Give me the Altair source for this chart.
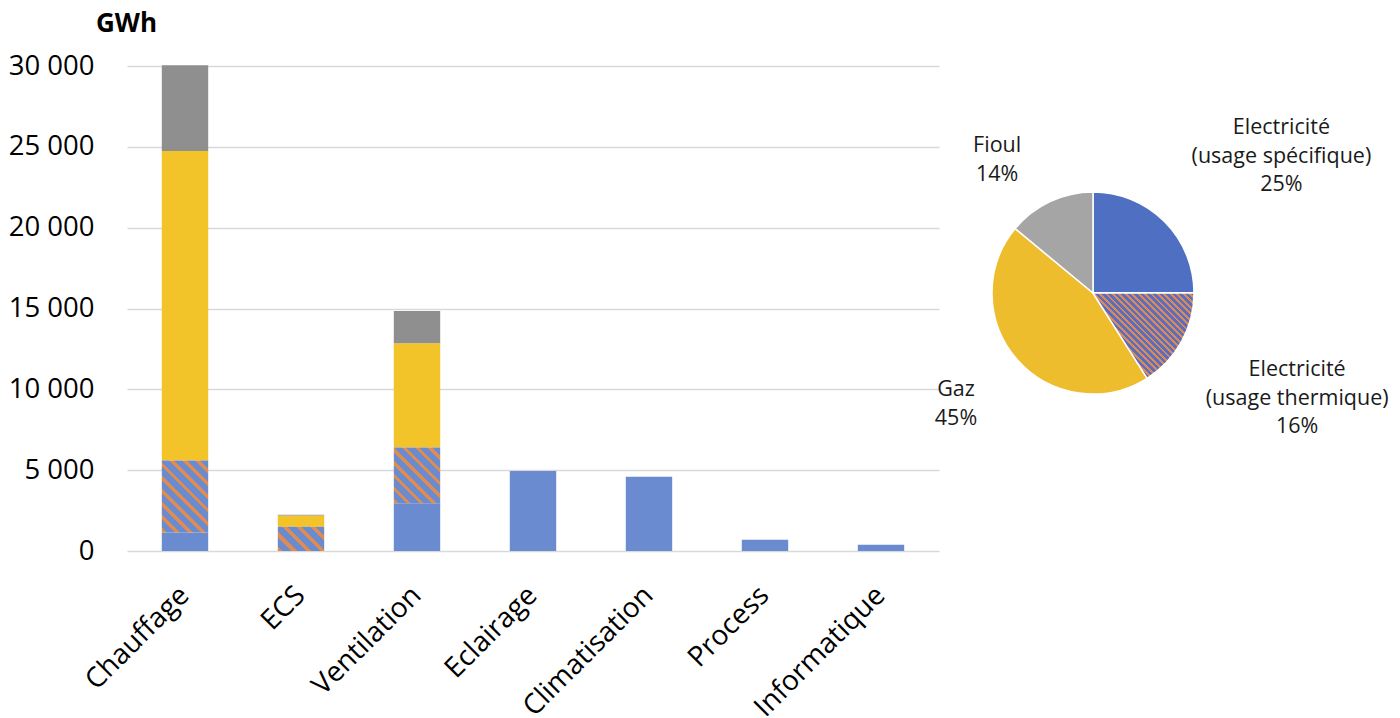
import math
import altair as alt
import pandas as pd

# Consommation par usage (GWh), empilée par énergie
categories = ["Chauffage", "ECS", "Ventilation", "Eclairage",
              "Climatisation", "Process", "Informatique"]
elec_specifique = [1150, 0, 2950, 4950, 4600, 700, 380]
elec_thermique = [4450, 1500, 3450, 0, 0, 0, 0]
gaz = [19150, 700, 6450, 0, 0, 0, 0]
fioul = [5300, 50, 2000, 0, 0, 0, 0]
y_ticks = [0, 5000, 10000, 15000, 20000, 25000, 30000]

# Répartition par énergie (%)
pie_keys = ["spec", "therm", "gaz", "fioul"]
pie_texts = ["Electricité\n(usage spécifique)\n25%",
             "Electricité\n(usage thermique)\n16%",
             "Gaz\n45%",
             "Fioul\n14%"]
pie_shares = [25, 16, 45, 14]

# --- styling ---
W, H = 812, 485
Y_MAX = 30000
PAD_INNER, PAD_OUTER = 0.6, 0.3
BAR_BLUE, BAR_YELLOW, BAR_GREY = "#6a8bd0", "#f3c42a", "#8f8f8f"
STRIPE_ORANGE = "#de8c50"
PIE_BLUE, PIE_YELLOW, PIE_GREY = "#4f6fc2", "#eebd2e", "#a5a5a5"
PIE_STRIPE_BLUE, PIE_STRIPE_ORANGE = "#5b6dbd", "#d88a5a"
PIE_R = 101
AXIS_FONT = "Open Sans"
PIE_FONT = "Open Sans"
PIE_FONT_SIZE = 21.5
PIE_LINE_H = 28.5


def stripes(w, h, period, frac, c_stripe, c_base):
    """Diagonal hatch as a hard-stop linear gradient over a w x h box (px)."""
    k = (w + h) / (w * w + h * h)
    n = max(1, round((w + h) / math.sqrt(2) / period))
    stops = []
    for i in range(n):
        a, b, e = i / n, (i + frac) / n, (i + 1) / n
        stops += [
            alt.GradientStop(color=c_stripe, offset=a),
            alt.GradientStop(color=c_stripe, offset=b),
            alt.GradientStop(color=c_base, offset=b),
            alt.GradientStop(color=c_base, offset=e),
        ]
    return alt.LinearGradient(gradient="linear", stops=stops,
                              x1=0, y1=1, x2=k * w, y2=1 - k * h)


# stacked segments
rows = []
for i, cat in enumerate(categories):
    base = 0
    for key, vals in [("spec", elec_specifique), ("therm", elec_thermique),
                      ("gaz", gaz), ("fioul", fioul)]:
        v = vals[i]
        if v > 0:
            rows.append({"cat": cat, "series": key, "y0": base, "y1": base + v, "v": v})
        base += v
bars = pd.DataFrame(rows)

x_enc = alt.X(
    "cat:N", sort=categories, title=None,
    scale=alt.Scale(paddingInner=PAD_INNER, paddingOuter=PAD_OUTER),
    axis=alt.Axis(labelAngle=-45, labelFontSize=28, labelFont=AXIS_FONT,
                  labelColor="#000000", ticks=False, domain=False, grid=False,
                  labelPadding=30, labelOffset=-10),
)
y_enc = alt.Y(
    "y1:Q",
    scale=alt.Scale(domain=[0, Y_MAX], nice=False),
    axis=alt.Axis(values=y_ticks,
                  labelExpr="replace(format(datum.value, ','), ',', ' ')",
                  labelFontSize=27.5, labelFont=AXIS_FONT, labelColor="#000000",
                  labelPadding=33, ticks=False, domain=False,
                  gridColor="#d9d9d9", gridWidth=1.5,
                  title="GWh", titleAngle=0, titleFontSize=26,
                  titleFont=AXIS_FONT, titleFontWeight="bold",
                  titleColor="#000000", titleAlign="center",
                  titleBaseline="alphabetic", titleX=-1, titleY=-35),
)

solid = alt.Chart(bars).transform_filter(alt.datum.series != "therm").mark_bar().encode(
    x=x_enc, y=y_enc, y2="y0:Q",
    color=alt.Color("series:N", legend=None,
                    scale=alt.Scale(domain=["spec", "gaz", "fioul"],
                                    range=[BAR_BLUE, BAR_YELLOW, BAR_GREY])),
)

step = W / (len(categories) - PAD_INNER + 2 * PAD_OUTER)
bar_w = step * (1 - PAD_INNER)
hatched = []
for cat, v in zip(categories, elec_thermique):
    if v <= 0:
        continue
    h_px = v / Y_MAX * H
    grad = stripes(bar_w, h_px, 9.5, 0.36, STRIPE_ORANGE, BAR_BLUE)
    hatched.append(
        alt.Chart(bars)
        .transform_filter((alt.datum.series == "therm") & (alt.datum.cat == cat))
        .mark_bar(color=grad)
        .encode(x=x_enc, y=y_enc, y2="y0:Q")
    )

bar_chart = alt.layer(solid, *hatched).properties(
    width=W, height=H, view=alt.ViewBackground(stroke="transparent", strokeWidth=0)
)

# --- pie ---
pie_df = pd.DataFrame({"key": pie_keys, "text": pie_texts,
                       "share": pie_shares, "idx": list(range(len(pie_keys)))})
theta_scale = alt.Scale(domain=[0, 100], range=[0, 2 * math.pi])

pie_base = (
    alt.Chart(pie_df)
    .transform_window(cum="sum(share)", sort=[alt.SortField("idx")])
    .transform_calculate(start="datum.cum - datum.share",
                         mid="datum.cum - datum.share / 2")
)

arcs = pie_base.mark_arc(outerRadius=PIE_R, stroke="white", strokeWidth=1.5).encode(
    theta=alt.Theta("start:Q", scale=theta_scale, stack=None),
    theta2="cum:Q",
    color=alt.Color("key:N", legend=None,
                    scale=alt.Scale(domain=pie_keys,
                                    range=[PIE_BLUE, PIE_STRIPE_BLUE, PIE_YELLOW, PIE_GREY])),
)

# hatch for the thermal-electricity slice, sized to its bounding box
t0 = 2 * math.pi * pie_shares[0] / 100
t1 = 2 * math.pi * (pie_shares[0] + pie_shares[1]) / 100
xs = [0, PIE_R * math.sin(t0), PIE_R * math.sin(t1)]
ys = [0, -PIE_R * math.cos(t0), -PIE_R * math.cos(t1)]
for k in range(4):
    a = k * math.pi / 2
    if t0 <= a <= t1:
        xs.append(PIE_R * math.sin(a))
        ys.append(-PIE_R * math.cos(a))
slice_w, slice_h = max(xs) - min(xs), max(ys) - min(ys)
pie_grad = stripes(slice_w, slice_h, 4.6, 0.45, PIE_STRIPE_ORANGE, PIE_STRIPE_BLUE)

hatch_arc = pie_base.transform_filter(alt.datum.key == "therm").mark_arc(
    outerRadius=PIE_R, color=pie_grad, stroke="white", strokeWidth=1.5
).encode(theta=alt.Theta("start:Q", scale=theta_scale, stack=None), theta2="cum:Q")

# label placement: radius and nudge per slice; multi-line blocks are
# centred by lifting them half their extra height
label_place = {"spec": (200, 47, 5), "therm": (217, 14, 1),
               "gaz": (176, -5, -5), "fioul": (150, -32, 3)}
labels = []
for key, (r, dx, dy) in label_place.items():
    n_lines = pie_texts[pie_keys.index(key)].count("\n") + 1
    labels.append(
        pie_base.transform_filter(alt.datum.key == key)
        .mark_text(radius=r, dx=dx, dy=dy - (n_lines - 1) * PIE_LINE_H / 2,
                   fontSize=PIE_FONT_SIZE, font=PIE_FONT,
                   lineBreak="\n", lineHeight=PIE_LINE_H, align="center",
                   baseline="middle", color="#1a1a1a")
        .encode(theta=alt.Theta("mid:Q", scale=theta_scale, stack=None),
                text="text:N")
    )

pie_chart = alt.layer(arcs, hatch_arc, *labels).properties(
    width=220, height=454, view=alt.ViewBackground(stroke="transparent", strokeWidth=0)
)

chart = (
    alt.hconcat(bar_chart, pie_chart, spacing=44, bounds="flush")
    .resolve_scale(color="independent")
    .properties(padding={"left": 8, "top": 10, "right": 0, "bottom": 0})
    .configure_view(stroke="transparent", strokeWidth=0)
    .configure_axisX(grid=False)
    .configure(background="white",
               style={"cell": {"stroke": "transparent", "strokeWidth": 0}})
)

chart.save("out.html", embed_options={"renderer": "svg", "actions": False})
